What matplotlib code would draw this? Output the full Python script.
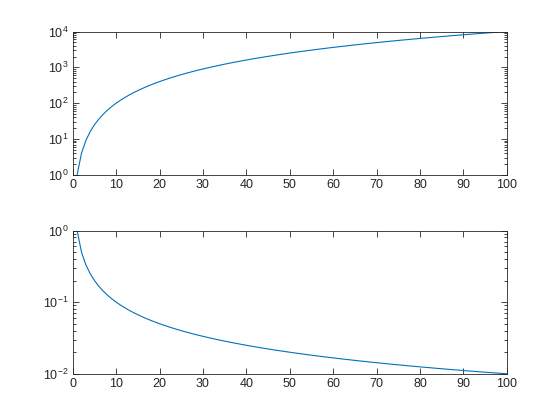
import matplotlib
matplotlib.use('Agg')
import matplotlib.pyplot as plt
from matplotlib.ticker import LogLocator, MultipleLocator, NullFormatter

plt.rcParams['font.family'] = ['Liberation Sans', 'DejaVu Sans']
plt.rcParams['mathtext.default'] = 'regular'

# x = 1..100
x = list(range(1, 101))

# top panel: squares
y_top = [1, 4, 9, 16, 25, 36, 49, 64, 81, 100,
         121, 144, 169, 196, 225, 256, 289, 324, 361, 400,
         441, 484, 529, 576, 625, 676, 729, 784, 841, 900,
         961, 1024, 1089, 1156, 1225, 1296, 1369, 1444, 1521, 1600,
         1681, 1764, 1849, 1936, 2025, 2116, 2209, 2304, 2401, 2500,
         2601, 2704, 2809, 2916, 3025, 3136, 3249, 3364, 3481, 3600,
         3721, 3844, 3969, 4096, 4225, 4356, 4489, 4624, 4761, 4900,
         5041, 5184, 5329, 5476, 5625, 5776, 5929, 6084, 6241, 6400,
         6561, 6724, 6889, 7056, 7225, 7396, 7569, 7744, 7921, 8100,
         8281, 8464, 8649, 8836, 9025, 9216, 9409, 9604, 9801, 10000]

# bottom panel: reciprocals
y_bot = [1.0, 0.5, 0.3333, 0.25, 0.2, 0.1667, 0.1429, 0.125, 0.1111, 0.1,
         0.09091, 0.08333, 0.07692, 0.07143, 0.06667, 0.0625, 0.05882, 0.05556, 0.05263, 0.05,
         0.04762, 0.04545, 0.04348, 0.04167, 0.04, 0.03846, 0.03704, 0.03571, 0.03448, 0.03333,
         0.03226, 0.03125, 0.0303, 0.02941, 0.02857, 0.02778, 0.02703, 0.02632, 0.02564, 0.025,
         0.02439, 0.02381, 0.02326, 0.02273, 0.02222, 0.02174, 0.02128, 0.02083, 0.02041, 0.02,
         0.01961, 0.01923, 0.01887, 0.01852, 0.01818, 0.01786, 0.01754, 0.01724, 0.01695, 0.01667,
         0.01639, 0.01613, 0.01587, 0.01563, 0.01538, 0.01515, 0.01493, 0.01471, 0.01449, 0.01429,
         0.01408, 0.01389, 0.0137, 0.01351, 0.01333, 0.01316, 0.01299, 0.01282, 0.01266, 0.0125,
         0.01235, 0.0122, 0.01205, 0.0119, 0.01176, 0.01163, 0.01149, 0.01136, 0.01124, 0.01111,
         0.01099, 0.01087, 0.01075, 0.01064, 0.01053, 0.01042, 0.01031, 0.0102, 0.0101, 0.01]

axcol = '#262626'
linecol = '#0072BD'

fig = plt.figure(figsize=(5.6, 4.2), dpi=100)
ax1 = fig.add_axes([0.13, 0.583837, 0.775, 0.341163])
ax2 = fig.add_axes([0.13, 0.11, 0.775, 0.341163])


def style(ax, ylim):
    ax.set_yscale('log')
    ax.set_xlim(0, 100)
    ax.set_ylim(*ylim)
    ax.xaxis.set_major_locator(MultipleLocator(10))
    ax.yaxis.set_major_locator(LogLocator(base=10, numticks=10))
    ax.yaxis.set_minor_locator(LogLocator(base=10, subs=range(2, 10), numticks=10))
    ax.yaxis.set_minor_formatter(NullFormatter())
    ax.tick_params(which='both', direction='in', top=True, right=True,
                   colors=axcol, labelsize=9, width=0.6)
    ax.tick_params(which='major', length=4.3, pad=3)
    ax.tick_params(which='minor', length=2.2)
    for s in ax.spines.values():
        s.set_color(axcol)
        s.set_linewidth(0.6)


ax1.plot(x, y_top, color=linecol, lw=0.8)
style(ax1, (1, 1e4))
ax2.plot(x, y_bot, color=linecol, lw=0.8)
style(ax2, (1e-2, 1))

fig.savefig('out.png', dpi=100)
